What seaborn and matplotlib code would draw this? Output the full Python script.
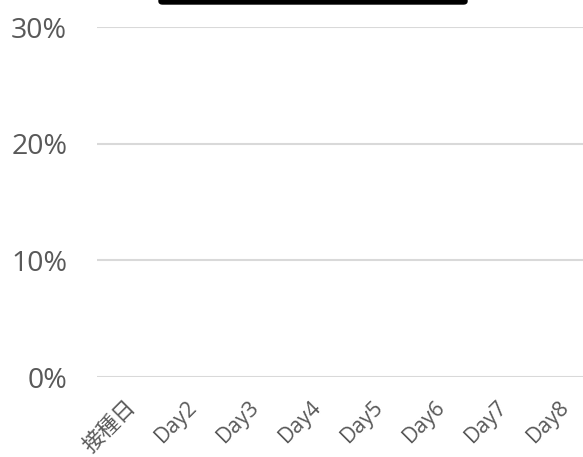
import matplotlib
matplotlib.use("Agg")
import matplotlib.pyplot as plt
import seaborn as sns
import pandas as pd
import numpy as np
from matplotlib.patches import FancyBboxPatch

categories = ["接種日", "Day2", "Day3", "Day4", "Day5", "Day6", "Day7", "Day8"]
values = [np.nan] * 8
yticks = [0.0, 0.1, 0.2, 0.3]
ytick_labels = ["0%", "10%", "20%", "30%"]

sns.set_theme(style="white")
plt.rcParams['font.family'] = ['Open Sans', 'Noto Sans CJK JP', 'DejaVu Sans']

W, H = 583, 457
fig = plt.figure(figsize=(W / 100, H / 100), dpi=100)
left, right = 97 / W, 1.0
bottom, top = 1 - 377 / H, 1 - 27 / H
ax = fig.add_axes([left, bottom, right - left, top - bottom])

df = pd.DataFrame({"cat": categories, "val": values})
sns.barplot(data=df, x="cat", y="val", ax=ax, color="#4472C4")

spacing = 62.0
ax_w_px = W - 97
ax.set_xlim(-0.45, -0.45 + ax_w_px / spacing)
ax.set_ylim(0, 0.3)
ax.set_yticks(yticks)
ax.set_yticklabels(ytick_labels)
ax.set_xticks(range(len(categories)))
ax.set_xticklabels(categories, rotation=45, ha="right", rotation_mode="anchor")
ax.set_xlabel("")
ax.set_ylabel("")
for s in ax.spines.values():
    s.set_visible(False)
ax.grid(axis="y", color="#D9D9D9", linewidth=1.5)
ax.set_axisbelow(True)
ax.tick_params(axis="y", length=0, pad=21.5, labelsize=20.5, labelcolor="#595959")
ax.tick_params(axis="x", length=0, pad=14, labelsize=15.5, labelcolor="#595959")

box = FancyBboxPatch((159 / W, 1 - 4 / H), (467 - 159) / W, 20 / H,
                     boxstyle="round,pad=0,rounding_size=0.006",
                     transform=fig.transFigure, facecolor="black",
                     edgecolor="black", clip_on=False)
fig.patches.append(box)

fig.savefig("out.png", dpi=100)
